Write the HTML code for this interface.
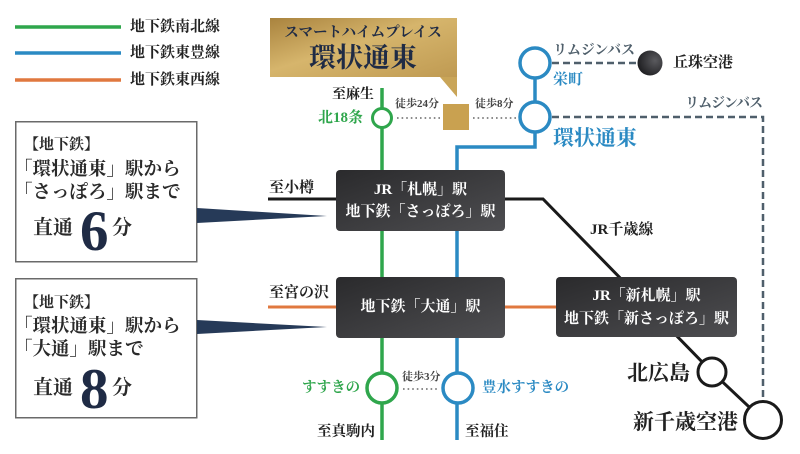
<!DOCTYPE html>
<html><head><meta charset="utf-8"><style>
html,body{margin:0;padding:0;background:#fff;}
svg{display:block;}
text{font-family:"Liberation Serif","Noto Serif CJK SC","Noto Serif CJK JP",serif;font-weight:bold;}
</style></head><body>
<svg width="800" height="454" viewBox="0 0 800 454" xmlns="http://www.w3.org/2000/svg">
<defs>
<linearGradient id="gold" x1="0" y1="0" x2="1" y2="1">
<stop offset="0" stop-color="#a9833e"/>
<stop offset="0.45" stop-color="#d6b56c"/>
<stop offset="1" stop-color="#bf9a52"/>
</linearGradient>
<linearGradient id="dark" x1="0" y1="0" x2="1" y2="1">
<stop offset="0" stop-color="#2a2a2c"/>
<stop offset="1" stop-color="#4e4e51"/>
</linearGradient>
<radialGradient id="dot" cx="0.7" cy="0.4" r="0.7">
<stop offset="0" stop-color="#5a5a5e"/>
<stop offset="1" stop-color="#1f1f22"/>
</radialGradient>
</defs>

<!-- legend -->
<line x1="15" y1="27" x2="121" y2="27" stroke="#2fa64c" stroke-width="3.5"/>
<line x1="15" y1="53" x2="121" y2="53" stroke="#2b8ac3" stroke-width="3.5"/>
<line x1="15" y1="80" x2="121" y2="80" stroke="#e0783f" stroke-width="3.5"/>
<text x="130" y="27" font-size="15" dominant-baseline="central" fill="#222">地下鉄南北線</text>
<text x="130" y="53" font-size="15" dominant-baseline="central" fill="#222">地下鉄東豊線</text>
<text x="130" y="80" font-size="15" dominant-baseline="central" fill="#222">地下鉄東西線</text>

<!-- gold label -->
<rect x="270" y="18" width="187" height="59" fill="url(#gold)"/>
<polygon points="440,77 457,77 457,97" fill="#c9a558"/>
<text x="363" y="33" font-size="14.5" text-anchor="middle" dominant-baseline="central" fill="#1f2b45">スマートハイムプレイス</text>
<text x="363" y="58" font-size="27" text-anchor="middle" dominant-baseline="central" fill="#1f2b45">環状通東</text>
<rect x="443" y="104" width="26" height="26" fill="#c9a150"/>

<!-- lines -->
<line x1="382" y1="88" x2="382" y2="440" stroke="#2fa64c" stroke-width="3.5"/>
<line x1="535" y1="63" x2="535" y2="117" stroke="#2b8ac3" stroke-width="3.5"/>
<polyline points="535,117 535,147 457,147 457,440" fill="none" stroke="#2b8ac3" stroke-width="3.5"/>
<line x1="268" y1="199" x2="340" y2="199" stroke="#1a1a1a" stroke-width="3"/>
<polyline points="500,199 543,199 712,372 763,420" fill="none" stroke="#1a1a1a" stroke-width="3"/>
<line x1="268" y1="307" x2="340" y2="307" stroke="#e0783f" stroke-width="3"/>
<line x1="500" y1="307" x2="560" y2="307" stroke="#e0783f" stroke-width="3"/>

<!-- dashed bus -->
<line x1="552" y1="63" x2="638" y2="63" stroke="#4f5f6b" stroke-width="2.5" stroke-dasharray="7 4"/>
<polyline points="552,117 763,117 763,401" fill="none" stroke="#4f5f6b" stroke-width="2.5" stroke-dasharray="7 4"/>
<text x="553" y="51" font-size="14" dominant-baseline="central" fill="#4f5f6b" textLength="82">リムジンバス</text>
<text x="685" y="104" font-size="14" dominant-baseline="central" fill="#4f5f6b" textLength="78">リムジンバス</text>

<!-- walking dotted -->
<line x1="397" y1="118" x2="440" y2="118" stroke="#666" stroke-width="1.6" stroke-dasharray="1.6 3"/>
<line x1="473" y1="118" x2="518" y2="118" stroke="#666" stroke-width="1.6" stroke-dasharray="1.6 3"/>
<line x1="403" y1="389" x2="438" y2="389" stroke="#666" stroke-width="1.6" stroke-dasharray="1.6 3"/>
<text x="395" y="104" font-size="11" dominant-baseline="central" fill="#444">徒歩24分</text>
<text x="475" y="104" font-size="11" dominant-baseline="central" fill="#444">徒歩8分</text>
<text x="402" y="377" font-size="11" dominant-baseline="central" fill="#444">徒歩3分</text>

<!-- dark boxes -->
<rect x="336" y="170" width="169" height="61" rx="4" fill="url(#dark)"/>
<text x="420.5" y="190" font-size="15" text-anchor="middle" dominant-baseline="central" fill="#fff">JR「札幌」駅</text>
<text x="420.5" y="212" font-size="15" text-anchor="middle" dominant-baseline="central" fill="#fff">地下鉄「さっぽろ」駅</text>
<rect x="336" y="277" width="169" height="61" rx="4" fill="url(#dark)"/>
<text x="420.5" y="307" font-size="15" text-anchor="middle" dominant-baseline="central" fill="#fff">地下鉄「大通」駅</text>
<rect x="556" y="277" width="181" height="60" rx="4" fill="url(#dark)"/>
<text x="646.5" y="296" font-size="15" text-anchor="middle" dominant-baseline="central" fill="#fff">JR「新札幌」駅</text>
<text x="646.5" y="319" font-size="15" text-anchor="middle" dominant-baseline="central" fill="#fff">地下鉄「新さっぽろ」駅</text>

<!-- stations -->
<circle cx="382" cy="118" r="9.5" fill="#fff" stroke="#2fa64c" stroke-width="3"/>
<circle cx="535" cy="63" r="15" fill="#fff" stroke="#2b8ac3" stroke-width="3.5"/>
<circle cx="535" cy="117" r="15" fill="#fff" stroke="#2b8ac3" stroke-width="3.5"/>
<circle cx="650" cy="63" r="12.5" fill="url(#dot)"/>
<circle cx="382" cy="388" r="15" fill="#fff" stroke="#2fa64c" stroke-width="3.5"/>
<circle cx="458" cy="388" r="15" fill="#fff" stroke="#2b8ac3" stroke-width="3.5"/>
<circle cx="712" cy="372" r="14" fill="#fff" stroke="#1a1a1a" stroke-width="3"/>
<circle cx="763" cy="420" r="18.5" fill="#fff" stroke="#1a1a1a" stroke-width="3"/>

<!-- station labels -->
<text x="332" y="95" font-size="14" dominant-baseline="central" fill="#222">至麻生</text>
<text x="318" y="118" font-size="15" dominant-baseline="central" fill="#2fa64c">北18条</text>
<text x="553" y="80" font-size="15" dominant-baseline="central" fill="#2b8ac3">栄町</text>
<text x="553" y="138" font-size="21" dominant-baseline="central" fill="#2b8ac3">環状通東</text>
<text x="673" y="63" font-size="15" dominant-baseline="central" fill="#222">丘珠空港</text>
<text x="269" y="188" font-size="15" dominant-baseline="central" fill="#222">至小樽</text>
<text x="269" y="293" font-size="15" dominant-baseline="central" fill="#222">至宮の沢</text>
<text x="590" y="230" font-size="15" dominant-baseline="central" fill="#222">JR千歳線</text>
<text x="302" y="388" font-size="14.5" dominant-baseline="central" fill="#2fa64c">すすきの</text>
<text x="482" y="388" font-size="14.5" dominant-baseline="central" fill="#2b8ac3">豊水すすきの</text>
<text x="317" y="432" font-size="14.5" dominant-baseline="central" fill="#222">至真駒内</text>
<text x="465" y="432" font-size="14.5" dominant-baseline="central" fill="#222">至福住</text>
<text x="627" y="373" font-size="21" dominant-baseline="central" fill="#222">北広島</text>
<text x="633" y="422" font-size="21" dominant-baseline="central" fill="#222">新千歳空港</text>

<!-- left callout 1 -->
<rect x="15.75" y="121.75" width="181" height="140" fill="#fff" stroke="#6a6a6a" stroke-width="1.5"/>
<polygon points="197,208 197,223 327,216" fill="#263a58"/>
<text x="24" y="145" font-size="15" dominant-baseline="central" fill="#2a2a2a">【地下鉄】</text>
<text x="14" y="170" font-size="18.5" dominant-baseline="central" fill="#2a2a2a">「環状通東」駅から</text>
<text x="14" y="193" font-size="18.5" dominant-baseline="central" fill="#2a2a2a">「さっぽろ」駅まで</text>
<text x="33" y="228" font-size="20" dominant-baseline="central" fill="#2a2a2a">直通</text>
<text x="80" y="250" font-size="57" fill="#1f2b45">6</text>
<text x="112" y="228" font-size="20" dominant-baseline="central" fill="#2a2a2a">分</text>

<!-- left callout 2 -->
<rect x="15.75" y="278.75" width="181" height="139" fill="#fff" stroke="#6a6a6a" stroke-width="1.5"/>
<polygon points="197,320 197,334 327,327" fill="#263a58"/>
<text x="24" y="303" font-size="15" dominant-baseline="central" fill="#2a2a2a">【地下鉄】</text>
<text x="14" y="327" font-size="18.5" dominant-baseline="central" fill="#2a2a2a">「環状通東」駅から</text>
<text x="14" y="350" font-size="18.5" dominant-baseline="central" fill="#2a2a2a">「大通」駅まで</text>
<text x="33" y="388" font-size="20" dominant-baseline="central" fill="#2a2a2a">直通</text>
<text x="80" y="408" font-size="57" fill="#1f2b45">8</text>
<text x="112" y="388" font-size="20" dominant-baseline="central" fill="#2a2a2a">分</text>
</svg>
</body></html>
